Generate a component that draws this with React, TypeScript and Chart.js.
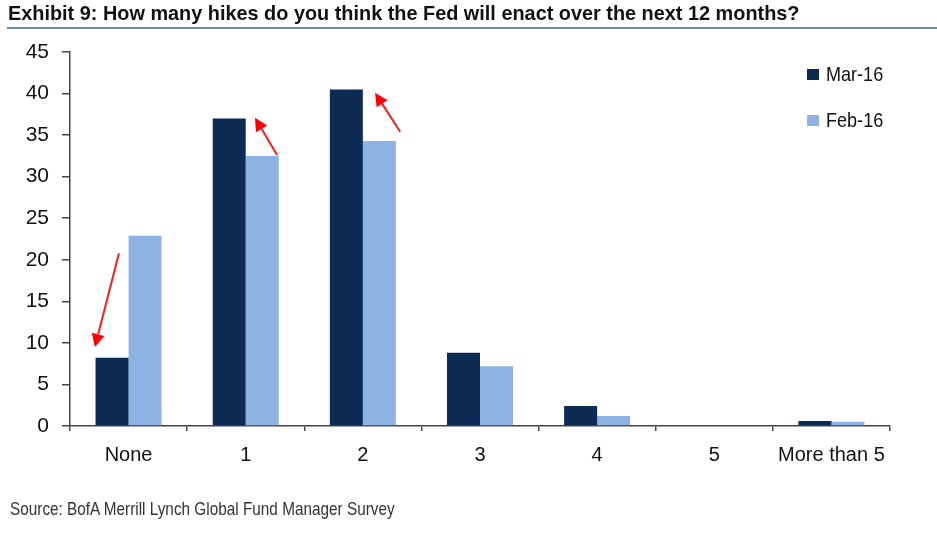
import React, { useEffect, useRef } from "react";
import { Chart, registerables } from "chart.js";

Chart.register(...registerables);

const categories = ["None", "1", "2", "3", "4", "5", "More than 5"];
const mar16 = [8.2, 37.0, 40.5, 8.8, 2.4, 0, 0.6];
const feb16 = [22.9, 32.5, 34.3, 7.2, 1.2, 0, 0.5];
const seriesNames = ["Mar-16", "Feb-16"];
const yTicks = { min: 0, max: 45, step: 5 };

// Red annotation arrows: category index, tail/tip given as (offset in bar widths from category centre, value)
const arrows = [
  { cat: 0, fromDx: -0.29, fromVal: 20.8, toDx: -1.02, toVal: 9.5 },
  { cat: 1, fromDx: 0.95, fromVal: 32.6, toDx: 0.28, toVal: 37.1 },
  { cat: 2, fromDx: 1.13, fromVal: 35.4, toDx: 0.37, toVal: 40.1 },
];

const DARK = "#0e2b55";
const LIGHT = "#8db3e2";
const FONT = "'Liberation Sans', Arial, sans-serif";

const arrowPlugin = {
  id: "arrows",
  afterDatasetsDraw(chart: any) {
    const { ctx } = chart;
    const xs = chart.scales.x;
    const ys = chart.scales.y;
    const bar = chart.getDatasetMeta(0).data[0];
    const w = bar ? bar.width : 33;
    ctx.save();
    ctx.strokeStyle = "#ff1a1a";
    ctx.fillStyle = "#ff0000";
    ctx.lineWidth = 2;
    arrows.forEach((a) => {
      const cx = xs.getPixelForValue(a.cat);
      const x1 = cx + a.fromDx * w;
      const y1 = ys.getPixelForValue(a.fromVal);
      const x2 = cx + a.toDx * w;
      const y2 = ys.getPixelForValue(a.toVal);
      const ang = Math.atan2(y2 - y1, x2 - x1);
      const headLen = 13;
      const headW = 6.5;
      const bx = x2 - headLen * Math.cos(ang);
      const by = y2 - headLen * Math.sin(ang);
      ctx.beginPath();
      ctx.moveTo(x1, y1);
      ctx.lineTo(bx, by);
      ctx.stroke();
      ctx.beginPath();
      ctx.moveTo(x2, y2);
      ctx.lineTo(bx + headW * Math.sin(ang), by - headW * Math.cos(ang));
      ctx.lineTo(bx - headW * Math.sin(ang), by + headW * Math.cos(ang));
      ctx.closePath();
      ctx.fill();
    });
    ctx.restore();
  },
};

const legendPlugin = {
  id: "customLegend",
  afterDraw(chart: any) {
    const { ctx, chartArea } = chart;
    const x0 = chartArea.right - 83;
    const rows = [chartArea.top + 22, chartArea.top + 68];
    seriesNames.forEach((name, i) => {
      const y = rows[i];
      ctx.save();
      ctx.fillStyle = i === 0 ? DARK : LIGHT;
      ctx.fillRect(x0, y - 5, 12, 11);
      ctx.translate(x0 + 19, y + 1);
      ctx.scale(0.86, 1);
      ctx.font = `21px ${FONT}`;
      ctx.textBaseline = "middle";
      ctx.fillStyle = "#111";
      ctx.fillText(name, 0, 0);
      ctx.restore();
    });
  },
};

function BarChart() {
  const ref = useRef<HTMLCanvasElement | null>(null);
  useEffect(() => {
    if (!ref.current) return;
    const axisColor = "#444";
    const chart = new Chart(ref.current, {
      type: "bar",
      data: {
        labels: categories,
        datasets: [
          { label: seriesNames[0], data: mar16, backgroundColor: DARK, categoryPercentage: 0.564, barPercentage: 1 },
          { label: seriesNames[1], data: feb16, backgroundColor: LIGHT, categoryPercentage: 0.564, barPercentage: 1 },
        ],
      },
      options: {
        responsive: false,
        animation: false,
        devicePixelRatio: 1,
        layout: { padding: { top: 52, right: 47, bottom: 78, left: 0 } },
        plugins: { legend: { display: false }, tooltip: { enabled: false }, title: { display: false } },
        scales: {
          x: {
            afterFit: (s: any) => { s.height = 50; },
            grid: { display: true, drawOnChartArea: false, drawTicks: true, tickLength: 5, color: axisColor, lineWidth: 1.5, offset: true },
            border: { display: true, color: axisColor, width: 1.5 },
            ticks: { color: "#111", font: { family: FONT, size: 20 }, padding: 12, maxRotation: 0, autoSkip: false },
          },
          y: {
            min: yTicks.min,
            max: yTicks.max,
            afterFit: (s: any) => { s.width = 70; },
            grid: { display: true, drawOnChartArea: false, drawTicks: true, tickLength: 8, color: axisColor, lineWidth: 1.5 },
            border: { display: true, color: axisColor, width: 1.5 },
            ticks: { stepSize: yTicks.step, color: "#111", font: { family: FONT, size: 21 }, padding: 13 },
          },
        },
      },
      plugins: [arrowPlugin, legendPlugin],
    });
    return () => chart.destroy();
  }, []);
  return <canvas ref={ref} width={937} height={554} style={{ position: "absolute", left: 0, top: 0, width: 937, height: 554 }} />;
}

export default function App() {
  return (
    <div style={{ position: "fixed", left: 0, top: 0, width: 937, height: 554, background: "#fff", overflow: "hidden" }}>
      <BarChart />
      <div style={{ position: "absolute", left: 8, top: 2, font: `bold 21px ${FONT}`, lineHeight: "22px", color: "#111", whiteSpace: "nowrap", transform: "scaleX(0.946)", transformOrigin: "left top" }}>
        Exhibit 9: How many hikes do you think the Fed will enact over the next 12 months?
      </div>
      <div style={{ position: "absolute", left: 7, right: 0, top: 27, height: 2, background: "#6f89a5" }} />
      <div style={{ position: "absolute", left: 10, top: 499, font: `19px ${FONT}`, lineHeight: "19px", color: "#333", whiteSpace: "nowrap", transform: "scaleX(0.807)", transformOrigin: "left top" }}>
        Source: BofA Merrill Lynch Global Fund Manager Survey
      </div>
    </div>
  );
}
